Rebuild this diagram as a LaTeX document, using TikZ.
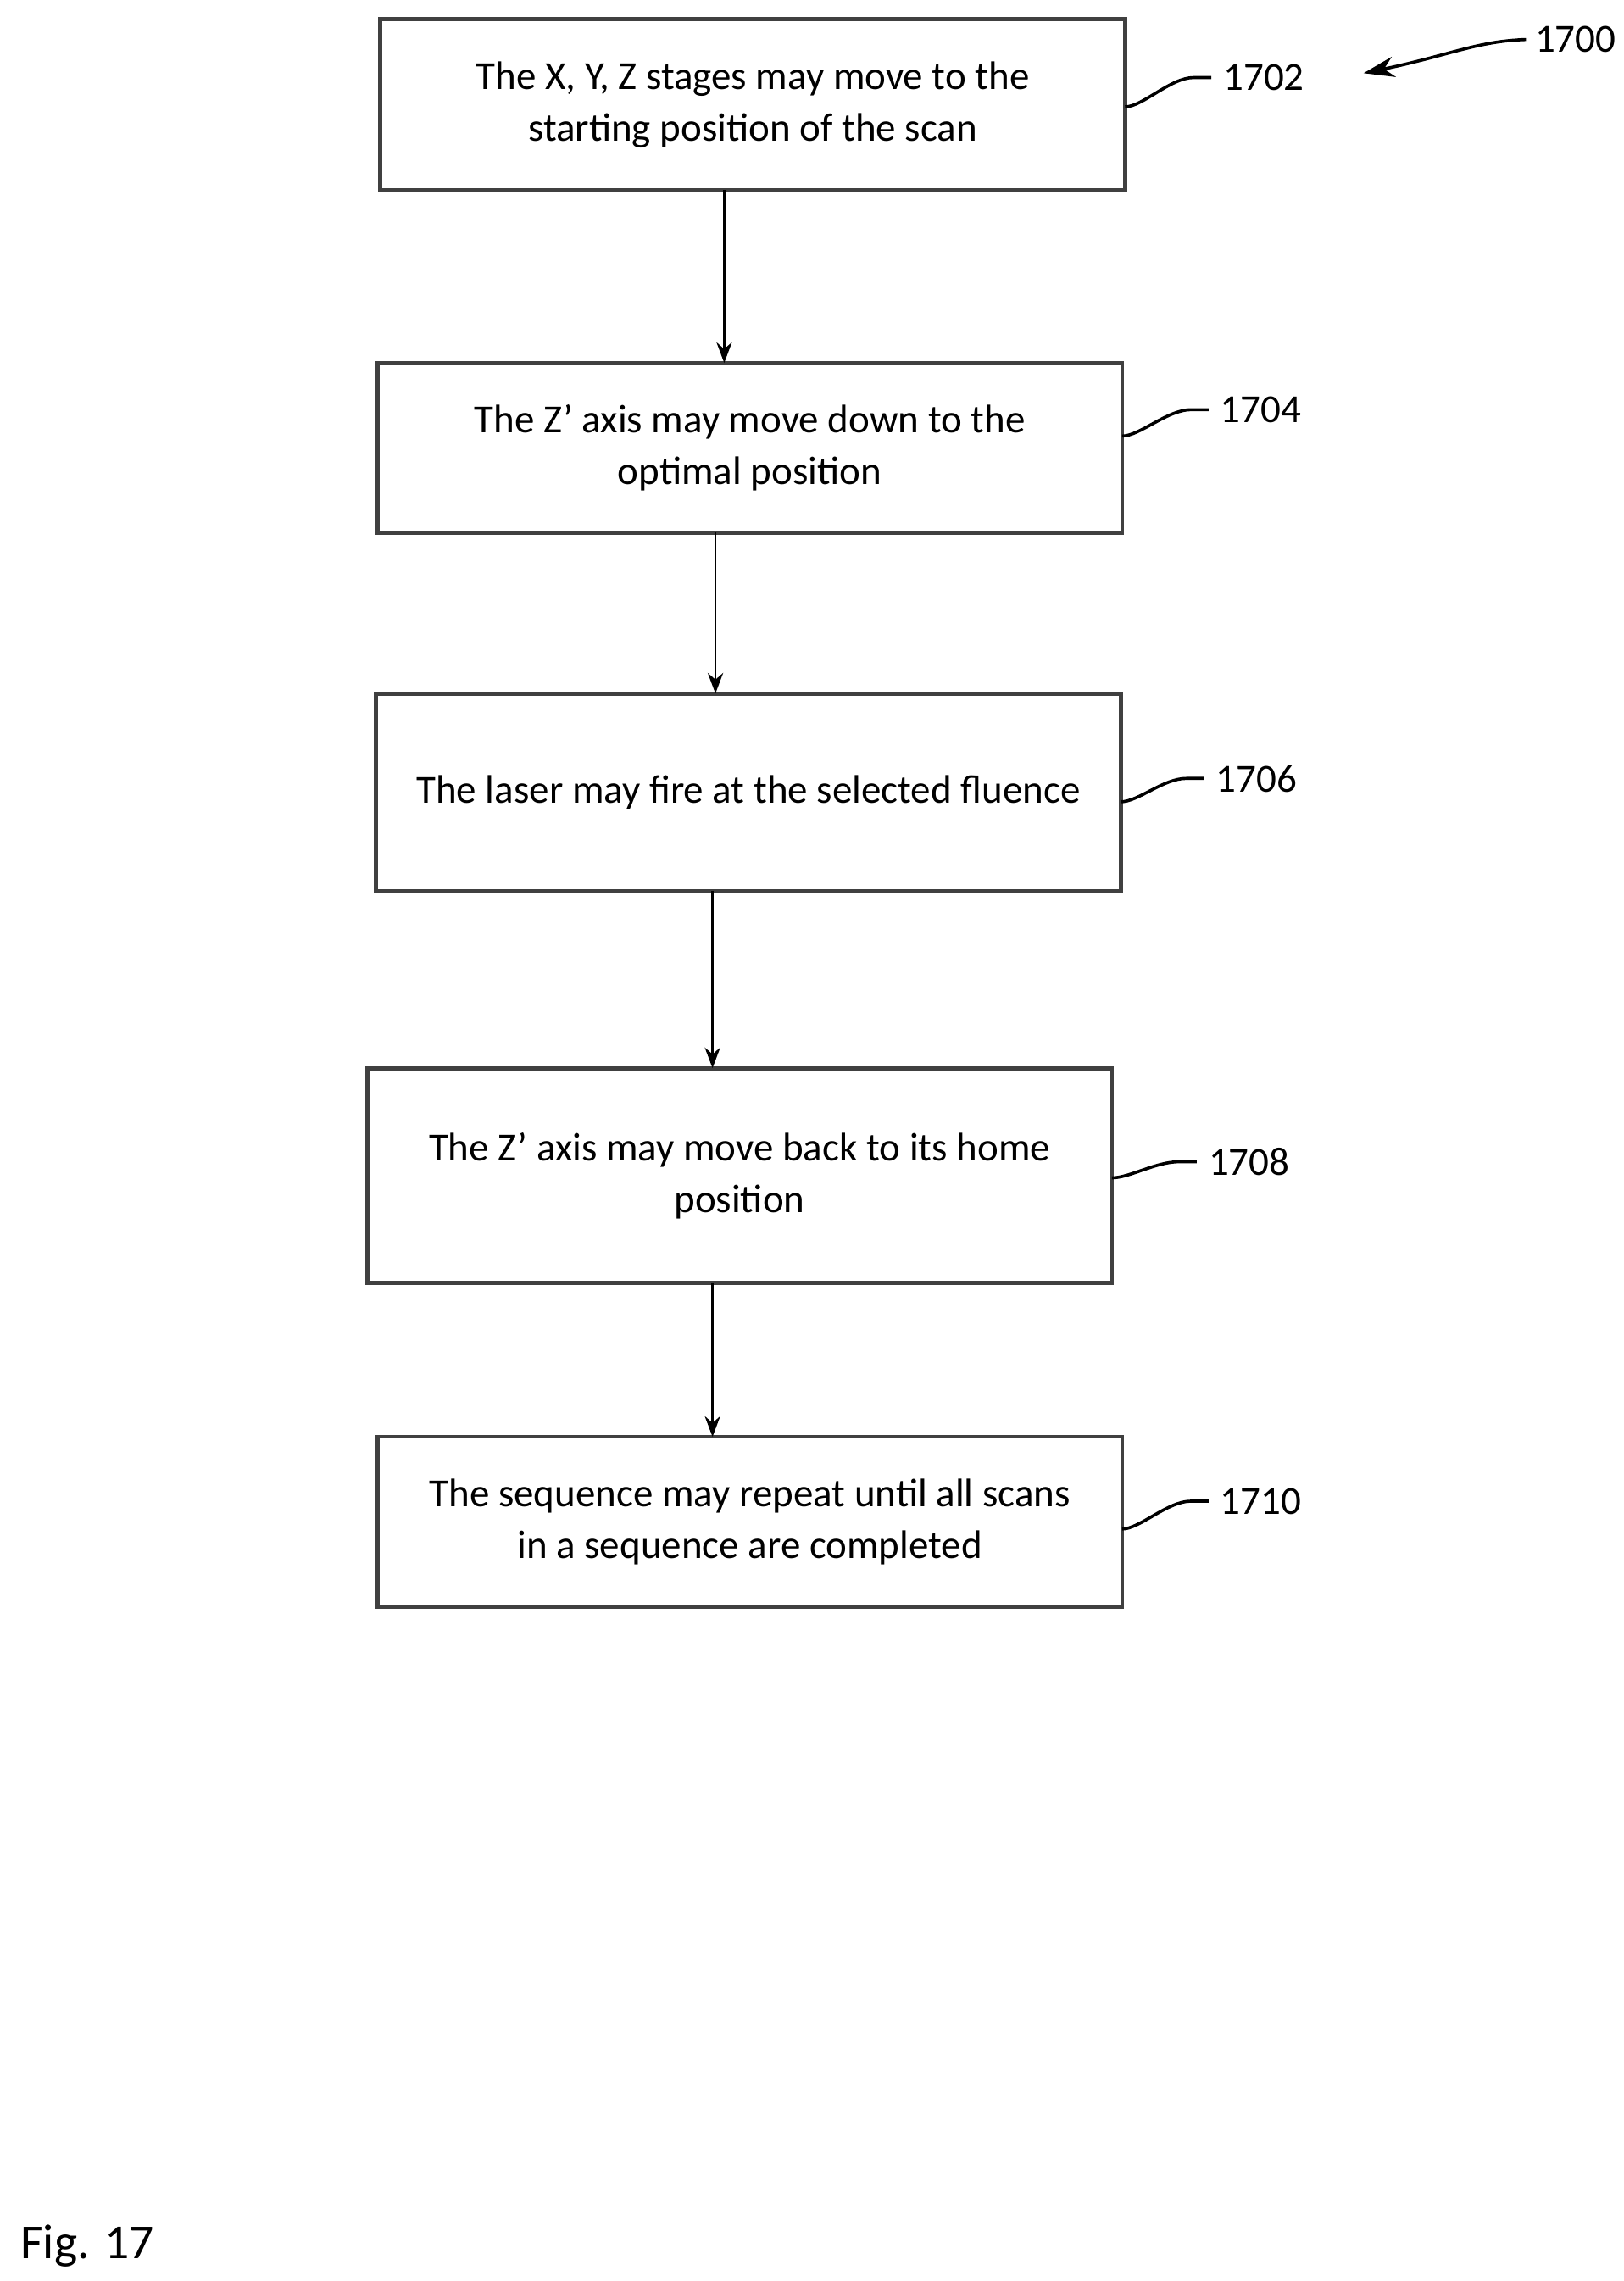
\documentclass[tikz,border=0pt]{standalone}
\usepackage{fontspec}
\setmainfont{Carlito}
\usetikzlibrary{arrows.meta,calc}
\begin{document}
\begin{tikzpicture}[x=0.02cm,y=-0.02cm,
 box/.style={draw=black!75,line width=1.6pt,inner sep=0pt},
 txt/.style={align=center,font=\fontsize{15.5}{20}\selectfont},
 lab/.style={font=\fontsize{15.5}{20}\selectfont,anchor=west},
 arr/.style={-{Stealth[length=8pt,width=6pt]},line width=0.8pt},
 lead/.style={line width=1.2pt}]
\useasboundingbox (0,0) rectangle (1110,1559);
\draw[box] (260,13) rectangle (769,130) node[midway,txt] (t1) {The X, Y, Z stages may move to the\\starting position of the scan};
\draw[box] (258,248) rectangle (767,364) node[midway,txt] (t2) {The Z’ axis may move down to the\\optimal position};
\draw[box] (257,474) rectangle (766,609) node[midway,txt] (t3) {The laser may fire at the selected fluence};
\draw[box] (251,730) rectangle (760,877) node[midway,txt] (t4) {The Z’ axis may move back to its home\\position};
\draw[box] (258,982) rectangle (767,1098) node[midway,txt] (t5) {The sequence may repeat until all scans\\in a sequence are completed};
\coordinate (a1) at (495,130); \coordinate (a2) at (495,248);
\coordinate (a3) at (489,364); \coordinate (a4) at (489,474);
\coordinate (a5) at (487,609); \coordinate (a6) at (487,730);
\coordinate (a7) at (487,877); \coordinate (a8) at (487,982);
\draw[arr] (a1)--(a2); \draw[arr] (a3)--(a4); \draw[arr] (a5)--(a6); \draw[arr] (a7)--(a8);
\node[lab] (l1) at (830,53) {1702};
\node[lab] (l2) at (828,280) {1704};
\node[lab] (l3) at (825,532) {1706};
\node[lab] (l4) at (820,794) {1708};
\node[lab] (l5) at (828,1026) {1710};
\node[lab] (l0) at (1043,27) {1700};
\coordinate (e1) at (769,73); \coordinate (e2) at (767,298);
\coordinate (e3) at (766,548); \coordinate (e4) at (760,805);
\coordinate (e5) at (767,1045);
\foreach \e/\l in {e1/l1,e2/l2,e3/l3,e4/l4,e5/l5}
 \draw[lead] (\e) .. controls ($(\e)+(12,0)$) and ($(\l.west)+(-30,0)$) .. ($(\l.west)+(-14,0)$) -- ($(\l.west)+(-2,0)$);
\draw[lead,-{Stealth[length=12pt,width=8pt]}] (l0.west) .. controls (1010,28) and (990,38) .. (932,50);
\node[anchor=west,font=\fontsize{19}{22}\selectfont] (fig) at (8,1535) {Fig. 17};
\end{tikzpicture}
\end{document}
